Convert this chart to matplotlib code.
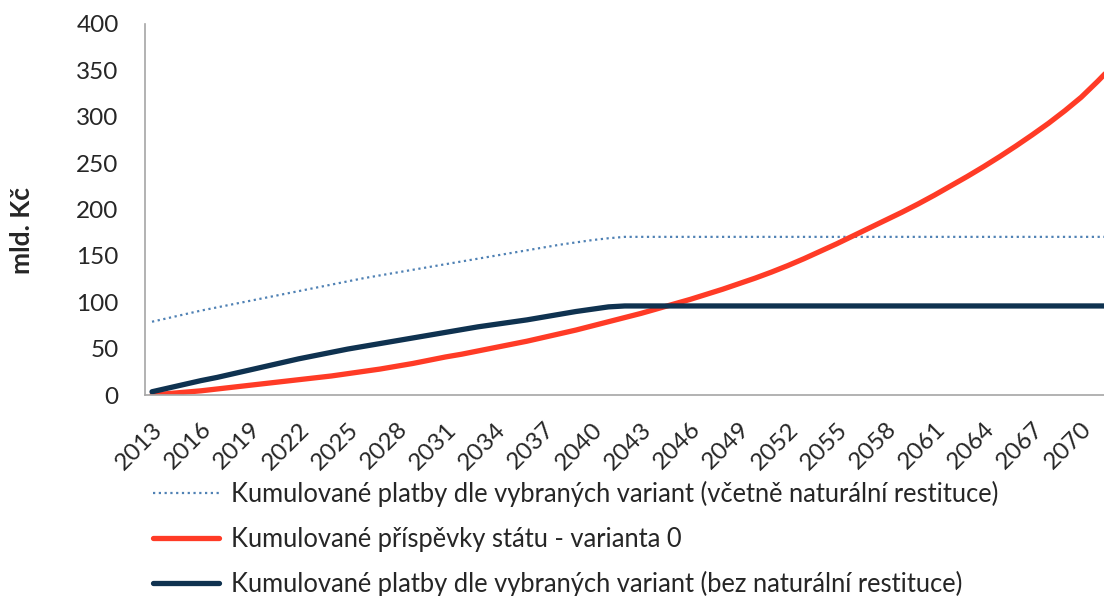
import numpy as np
import matplotlib
matplotlib.use("Agg")
import matplotlib.pyplot as plt

plt.rcParams['font.family'] = ['Lato', 'DejaVu Sans']

years = list(range(2013, 2073))

# kumulované platby vcetne naturalni restituce (dotted)
incl_natural = [79, 83, 87, 91, 94.5, 98, 101.5, 105, 108.5, 112,
                115.5, 119, 122.5, 126, 129, 132, 135, 138, 141, 144,
                147, 150, 153, 156, 159, 162, 164.5, 167, 169, 170.5] + [170.5] * 30

# kumulované prispevky statu - varianta 0 (red)
state_var0 = [0, 1.5, 3, 4.5, 6.5, 8.5, 10.5, 12.5, 14.5, 16.5,
              18.5, 20.5, 23, 25.5, 28, 31, 34, 37.5, 41, 44,
              47.5, 51, 54.5, 58, 62, 66, 70, 74.5, 79, 83.5,
              88, 93, 98, 103, 108.5, 114, 120, 126, 132.5, 139.5,
              147, 155, 163, 171.5, 180, 188.5, 197, 206, 215.5, 225.5,
              235.5, 246, 257, 268.5, 280.5, 293, 306.5, 321, 338, 356]

# kumulované platby bez naturalni restituce (navy)
excl_natural = [3.5, 7.5, 11.5, 15.5, 19, 23, 27, 31, 35, 39,
                42.5, 46, 49.5, 52.5, 55.5, 58.5, 61.5, 64.5, 67.5, 70.5,
                73.5, 76, 78.5, 81, 84, 87, 90, 92.5, 95, 96] + [96] * 30

tick_years = list(range(2013, 2071, 3))
y_ticks = [0, 50, 100, 150, 200, 250, 300, 350, 400]

labels = ["Kumulované platby dle vybraných variant (včetně naturální restituce)",
          "Kumulované příspěvky státu - varianta 0",
          "Kumulované platby dle vybraných variant (bez naturální restituce)"]

text_color = "#262626"
axis_color = "#a6a6a6"

fig = plt.figure(figsize=(11.04, 5.96), dpi=100)
ax = fig.add_axes([145 / 1104, 1 - 395 / 596, 1 - 145 / 1104, (395 - 24) / 596])

ax.plot(years, incl_natural, color="#4f81b4", linewidth=1.6, linestyle=(0, (1, 1.6)), label=labels[0])
ax.plot(years, state_var0, color="#ff3b26", linewidth=3.8, solid_capstyle="round", label=labels[1])
ax.plot(years, excl_natural, color="#0f3250", linewidth=3.8, solid_capstyle="round", label=labels[2])

ax.set_xlim(2012.57, 2071.4)
ax.set_ylim(0, 400)
ax.set_yticks(y_ticks)
ax.set_xticks(tick_years)
ax.set_xticklabels([str(y) for y in tick_years], rotation=45, ha="right", va="top",
                   rotation_mode="anchor")
ax.tick_params(axis="both", length=0, labelsize=17.5, colors=text_color)
ax.tick_params(axis="y", pad=19)
ax.tick_params(axis="x", pad=17)

for side in ["top", "right"]:
    ax.spines[side].set_visible(False)
for side in ["left", "bottom"]:
    ax.spines[side].set_color(axis_color)
    ax.spines[side].set_linewidth(1.2)

ax.set_ylabel("mld. Kč", fontsize=19, fontweight="bold", color=text_color)
ax.yaxis.set_label_coords(-111 / 959, (395 - 231) / 371)

leg = fig.legend(loc="upper left", bbox_to_anchor=(153 / 1104, 1 - 481 / 596),
                 frameon=False, fontsize=18.4, handlelength=2.6, handletextpad=0.47,
                 labelspacing=0.76, borderaxespad=0, borderpad=0)
for t in leg.get_texts():
    t.set_color(text_color)

fig.savefig("out.png", dpi=100)
